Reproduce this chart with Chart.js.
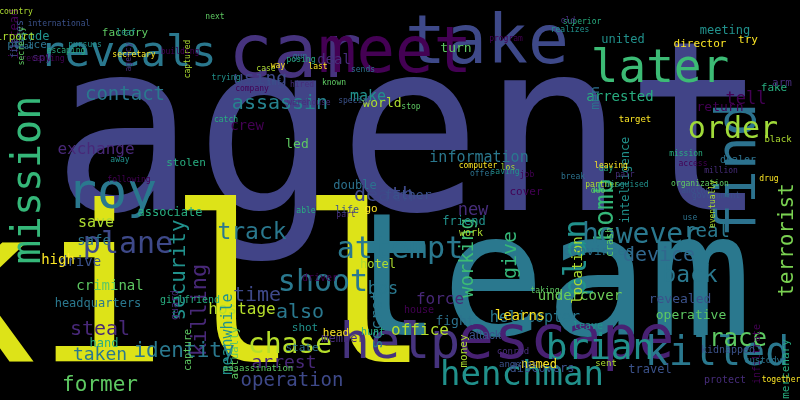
<!DOCTYPE html>
<html>
<head>
<meta charset="utf-8">
<script src="https://cdn.jsdelivr.net/npm/chart.js@4"></script>
<style>
  html, body { margin: 0; padding: 0; background: #000; }
  #wrap { width: 800px; height: 400px; }
</style>
</head>
<body>
<div id="wrap"><canvas id="cloud"></canvas></div>
<script>
// word cloud data: word, weight (font px), centre x/y in picture units, vertical flag, colour
const words = ["agent","team","kill","car","take","meet","reveals","later","mission","roy","find","escape","help","killed","henchman","brian","attempt","shoot","plane","order","bomb","plan","however","terrorist","chase","track","security","killing","assassin","using","contact","identity","operation","former","race","arrest","death","working","give","back","device","real","information","exchange","steal","taken","hostage","meanwhile","also","time","helicopter","undercover","office","force","secret","bos","criminal","headquarters","drive","save","safe","high","make","tell","arrested","new","operative","revealed","location","convinces","learns","intelligence","crew","associate","deal","led","father","world","men","director","united","return","fake","arm","turn","discovers","money","fight","named","code","instead","hand","member","actually","travel","hotel","double","go","friend","cover","stolen","spy","factory","flees","airport","police","try","meeting","infiltrate","mercenary","protect","capture","life","work","state","head","shot","driver","girlfriend","guard","crash","kidnapped","black","dealer","target","leave","house","hunt","conrad","assassination","angeles","sent","custody","together","realizes","program","superior","old","next","international","country","lead","secretary","pursues","revealing","escaping","agency","secretly","file","captured","sends","last","trying","company","posing","hired","known","imf","case","gun","way","leaf","building","catch","warehouse","stop","special","los","offer","computer","saving","job","day","pair","duo","another","partner","break","leaving","disguised","access","mission","million","organization","government","eventually","use","drug","away","following","able","part","taking","attack"];
const weights = [238,172,218,74,68,64,42,46,40,50,56,60,50,40,34,36,30,30,30,30,26,32,28,21,28,23,21,22,20,18,19,21,19,21,24,18,20,19,20,23,20,19,15,16,20,18,16,15,20,20,15,14,16,16,16,17,14,12,14,15,14,14,15,17,14,17,13,13,14,13,14,12,14,12,14,13,13,13,13,11,12,13,11,11,13,12,11,13,12,12,12,12,12,11,12,12,12,11,12,11,11,11,11,10,11,11,11,12,10,11,10,10,10,10,11,11,11,10,10,10,10,10,9,10,9,10,10,10,9,9,9,9,9,8,8,8,8,8,8,8,8,8,8,8,8,8,8,8,8,8,8,8,8,8,8,8,8,8,8,8,8,8,8,8,8,8,8,8,8,8,8,8,8,8,8,8,8,8,8,8,8,8,8,8,8,8,8,8,8,8,8,8,8];
const xs = [410,545,168,295,487,395,128,660,30,112,740,566,400,717,522,600,400,323,128,733,606,578,641,788,290,252,180,200,280,260,125,184,292,100,738,284,384,468,511,690,659,707,479,96,100,100,242,228,300,257,535,580,420,440,378,383,110,98,80,96,94,58,368,746,620,473,691,680,578,598,520,626,247,170,334,297,408,382,596,700,623,720,774,782,456,542,464,455,539,35,15,104,343,235,650,378,355,371,464,526,186,42,125,20,12,27,748,725,757,786,725,188,347,471,302,336,305,320,190,175,610,728,778,738,635,588,419,373,513,258,518,606,763,781,570,506,582,568,215,59,16,24,134,85,43,66,129,22,15,188,363,318,226,252,301,302,334,274,266,300,278,126,180,226,309,411,355,508,482,478,505,527,606,625,598,698,602,573,611,627,693,686,721,700,716,713,690,769,120,129,306,346,545,485,446,478,482,31,305,20];
const ys = [148,290,305,58,45,55,55,70,180,195,170,342,345,355,376,350,250,283,245,130,210,258,236,240,346,233,270,310,104,79,95,352,381,386,340,363,196,258,255,276,256,232,158,150,330,355,310,334,313,296,318,296,331,300,320,290,286,304,262,223,241,260,97,100,97,211,316,300,270,252,316,180,126,213,60,145,196,104,98,44,40,108,88,83,49,369,351,322,365,37,34,344,339,353,370,265,186,209,222,192,163,58,33,35,37,45,40,31,354,369,380,350,210,233,348,333,328,278,300,305,242,350,140,160,120,326,310,332,352,369,365,364,361,380,30,39,22,21,17,24,12,47,55,45,59,51,57,46,48,59,70,67,78,89,60,85,83,83,69,57,66,33,52,120,103,107,101,168,174,166,172,175,169,175,191,191,185,177,166,185,164,154,171,184,196,204,218,179,160,180,211,215,291,336,243,251,261,182,245,64,330,63];
const vertical = [0,0,0,0,0,0,0,0,1,0,1,0,0,0,0,0,0,0,0,0,1,1,0,1,0,0,1,1,0,0,0,0,0,0,0,0,0,1,1,0,0,0,0,0,0,0,0,1,0,0,0,0,0,0,1,0,0,0,0,0,0,0,0,0,0,0,0,0,1,0,0,1,0,0,0,0,0,0,1,0,0,0,0,0,0,0,1,0,0,0,1,0,0,1,0,0,0,0,0,0,0,0,0,1,0,0,0,0,1,1,0,1,0,0,0,0,0,0,0,1,1,0,0,0,0,0,0,0,0,0,0,0,0,0,0,0,0,0,0,0,0,0,0,0,0,0,1,1,1,1,0,0,0,0,0,0,0,0,0,0,0,0,0,0,0,0,0,0,0,0,0,0,0,0,0,0,0,0,0,0,0,0,0,0,0,1,0,0,0,0,0,0,0,0,0,0,0,0,0,0];

const viridis = ["#440154","#472d7b","#3b528b","#2c728e","#21918c","#28ae80","#5ec962","#addc30","#fde725"];
const colors = ["#414487","#2a788e","#dde318","#46337e","#3e4989","#440154","#2a788e","#3cbb75","#35b779","#2a788e","#2c728e","#482173","#46337e","#2a788e","#21918c","#21918c","#2a788e","#2a788e","#3e4989","#a0da39","#35b779","#21918c","#2a788e","#7ad151","#b5de2b","#2a788e","#21918c","#482878","#26828e","#3e4989","#2a788e","#2a788e","#3e4989","#5ec962","#5ec962","#482878","#3e4989","#3cbb75","#35b779","#2a788e","#31688e","#2a788e","#2a788e","#482878","#482878","#2a788e","#b5de2b","#21918c","#2a788e","#3e4989","#2a788e","#6ece58","#b5de2b","#482878","#2a788e","#2a788e","#5ec962","#2a788e"];

const cloudText = {
  id: "cloudText",
  afterDatasetsDraw(chart) {
    const ctx = chart.ctx;
    const meta = chart.getDatasetMeta(0);
    ctx.save();
    ctx.textAlign = "center";
    ctx.textBaseline = "middle";
    meta.data.forEach((pt, i) => {
      ctx.save();
      ctx.translate(pt.x, pt.y);
      if (vertical[i]) ctx.rotate(-Math.PI / 2);
      ctx.font = weights[i] + "px 'DejaVu Sans Mono'";
      ctx.fillStyle = colors[i] || viridis[(i * 5) % viridis.length];
      ctx.fillText(words[i], 0, 0);
      ctx.restore();
    });
    ctx.restore();
  }
};

new Chart(document.getElementById("cloud"), {
  type: "scatter",
  data: {
    datasets: [{
      data: words.map((w, i) => ({ x: xs[i], y: ys[i] })),
      pointRadius: 0
    }]
  },
  options: {
    responsive: true,
    maintainAspectRatio: false,
    animation: false,
    layout: { padding: 0 },
    plugins: { legend: { display: false }, tooltip: { enabled: false } },
    scales: {
      x: { display: false, min: 0, max: 800 },
      y: { display: false, min: 0, max: 400, reverse: true }
    }
  },
  plugins: [cloudText]
});
</script>
</body>
</html>
